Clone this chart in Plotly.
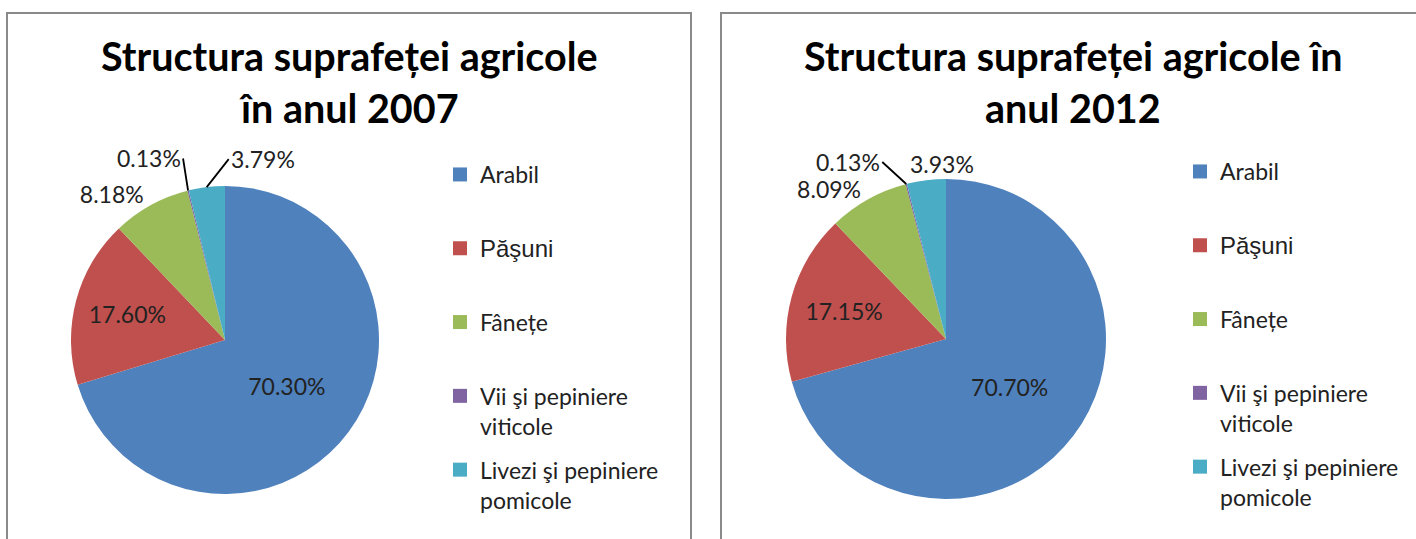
import math
import plotly.graph_objects as go

categories = ["Arabil", "Păşuni", "Fânețe", "Vii şi pepiniere viticole", "Livezi şi pepiniere pomicole"]
legend_labels = [
    "Arabil<br> ",
    "<span style='font-family:Liberation Sans;font-size:24px'>Păşuni</span><br> ",
    "Fânețe<br> ",
    "Vii şi pepiniere<br>viticole",
    "Livezi şi pepiniere<br>pomicole",
]
values_2007 = [70.30, 17.60, 8.18, 0.13, 3.79]
values_2012 = [70.70, 17.15, 8.09, 0.13, 3.93]
title_2007 = ["Structura suprafeței agricole", "în anul 2007"]
title_2012 = ["Structura suprafeței agricole în", "anul 2012"]

colors = ["#4F81BD", "#C0504D", "#9BBB59", "#8064A2", "#4BACC6"]
FONT = "Lato"
W, H = 1416, 539

def px(x):
    return x / W

def py(y):
    return 1 - y / H

fig = go.Figure()

# slices 0-2 labelled by the pie itself; 3-4 by leader-line annotations
text_pos = ["inside", "inside", "outside", "none", "none"]

# label placement for the two thin slices: tail point (px, relative to slice edge) and anchor
pies = [
    dict(vals=values_2007, cx=225, cy=340, r=154,
         offs={3: dict(ax=-5, ay=-32, xanchor="right", showarrow=True),
               4: dict(ax=22, ay=-28, xanchor="left", showarrow=True)}),
    dict(vals=values_2012, cx=946, cy=339, r=160,
         offs={3: dict(ax=-24, ay=-22, xanchor="right", showarrow=True),
               4: dict(ax=2, ay=-16, xanchor="center", showarrow=False)}),
]

annotations = []
for p in pies:
    vals, cx, cy, r = p["vals"], p["cx"], p["cy"], p["r"]
    fig.add_trace(go.Pie(
        labels=categories,
        values=vals,
        sort=False,
        direction="clockwise",
        rotation=0,
        texttemplate="%{value:.2f}%",
        textposition=text_pos,
        insidetextorientation="horizontal",
        textfont=dict(family=FONT, size=23, color="#222222"),
        insidetextfont=dict(family=FONT, size=23, color="#222222"),
        outsidetextfont=dict(family=FONT, size=23, color="#222222"),
        marker=dict(colors=colors, line=dict(width=0)),
        domain=dict(x=[px(cx - r), px(cx + r)], y=[py(cy + r), py(cy - r)]),
        showlegend=False,
        hoverinfo="label+percent",
    ))
    total = sum(vals)
    cum = 0.0
    for i, v in enumerate(vals):
        mid = (cum + v / 2) / total * 2 * math.pi
        cum += v
        if i not in p["offs"]:
            continue
        o = p["offs"][i]
        ex = cx + r * math.sin(mid)
        ey = cy - r * math.cos(mid)
        ann = dict(
            text=f"{v:.2f}%", xref="paper", yref="paper",
            x=px(ex), y=py(ey),
            font=dict(family=FONT, size=23, color="#222222"),
        )
        if o["showarrow"]:
            ann.update(showarrow=True, ax=o["ax"], ay=o["ay"], arrowhead=0,
                       xanchor=o["xanchor"], yanchor="middle",
                       arrowwidth=1.8, arrowcolor="#000000", standoff=0, startstandoff=0)
        else:
            ann.update(showarrow=False, xshift=o["ax"] + 14, yshift=-o["ay"],
                       xanchor="center", yanchor="middle")
        annotations.append(ann)

# legends (one per panel)
for li, leg in enumerate(["legend", "legend2"]):
    for i, (lab, col) in enumerate(zip(legend_labels, colors)):
        fig.add_trace(go.Scatter(
            x=[None], y=[None], mode="markers",
            marker=dict(symbol="square", size=14, color=col),
            name=lab, legend=leg, legendgroup=f"{leg}_{i}",
            showlegend=True,
        ))

legend_common = dict(
    font=dict(family=FONT, size=23, color="#222222"),
    bgcolor="rgba(0,0,0,0)",
    valign="top",
    tracegroupgap=11,
    itemclick=False,
    itemdoubleclick=False,
    xanchor="left",
    yanchor="top",
)

for lines, cx in [(title_2007, 349), (title_2012, 1073)]:
    for j, t in enumerate(lines):
        annotations.append(dict(
            text=f"<b>{t}</b>", x=px(cx), y=py(55 + j * 53), xref="paper", yref="paper",
            xanchor="center", yanchor="middle", showarrow=False,
            font=dict(family=FONT, size=39.5, color="#000000"),
        ))

shapes = [
    dict(type="rect", xref="paper", yref="paper", x0=px(7), x1=px(691), y0=py(560), y1=py(13),
         line=dict(color="#8a8a8a", width=2), fillcolor="rgba(0,0,0,0)"),
    dict(type="rect", xref="paper", yref="paper", x0=px(721), x1=px(1440), y0=py(560), y1=py(13),
         line=dict(color="#8a8a8a", width=2), fillcolor="rgba(0,0,0,0)"),
]

fig.update_layout(
    width=W, height=H,
    margin=dict(l=0, r=0, t=0, b=0),
    paper_bgcolor="white", plot_bgcolor="white",
    xaxis=dict(visible=False), yaxis=dict(visible=False),
    legend=dict(x=px(440), y=py(153), **legend_common),
    legend2=dict(x=px(1180), y=py(150), **legend_common),
    annotations=annotations,
    shapes=shapes,
    font=dict(family=FONT),
)

fig.write_html(
    "out.html",
    config={"displayModeBar": False},
    post_script="document.body.style.margin='0';document.body.style.overflow='hidden';",
)
